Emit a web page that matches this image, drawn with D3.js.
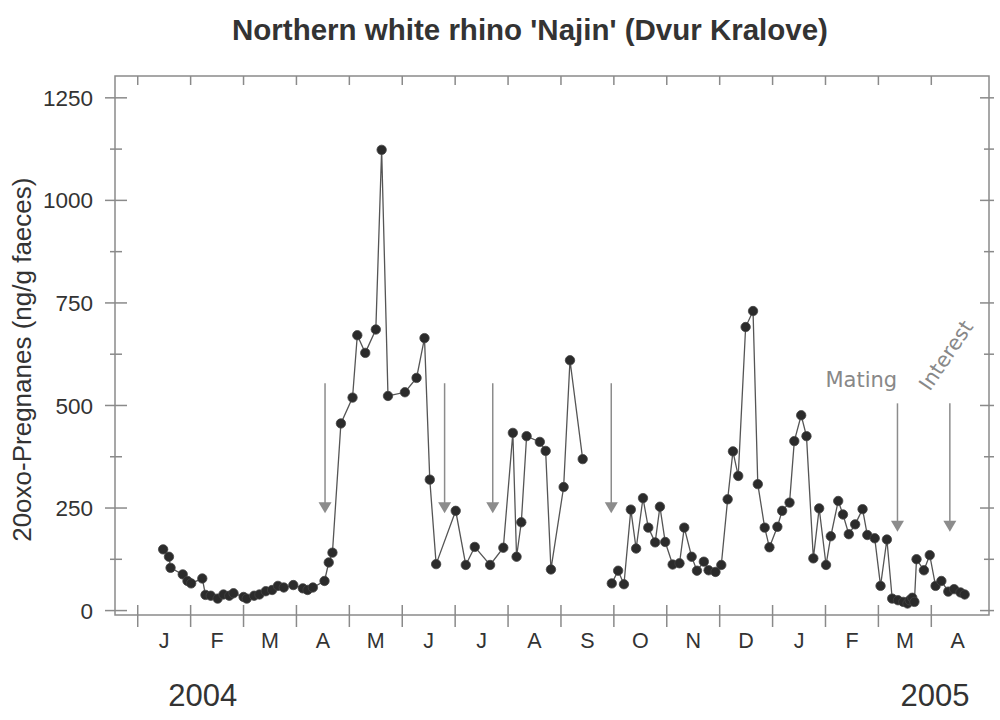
<!DOCTYPE html>
<html>
<head>
<meta charset="utf-8">
<script src="https://cdn.jsdelivr.net/npm/d3@7"></script>
<style>
  html, body { margin: 0; padding: 0; background: #fff; }
  svg { display: block; }
</style>
</head>
<body>
<svg id="chart" width="1000" height="720"></svg>
<script>
// ---- Data (x in months since 1 Jan 2004, y in ng/g faeces) ----
const segment1Months = [0.49,0.60,0.63,0.86,0.95,1.02,1.23,1.29,1.39,1.52,1.63,1.74,1.82,2.01,2.07,2.21,2.31,2.43,2.55,2.66,2.77,2.95,3.13,3.22,3.32,3.54,3.62,3.69,3.85,4.07,4.16,4.31,4.51,4.62,4.74,5.06,5.28,5.43,5.53,5.65,6.02,6.21,6.38,6.67,6.92,7.10,7.17,7.26,7.36,7.61,7.72,7.82,8.06,8.18,8.42];
const segment1Values = [148,130,103,87,71,65,77,37,35,28,38,35,41,32,28,35,38,46,49,59,55,61,53,49,55,71,116,140,455,518,670,627,684,1122,522,531,566,663,318,112,242,110,154,110,152,432,130,214,424,410,388,99,300,609,368];
const segment2Months = [8.97,9.09,9.20,9.33,9.43,9.56,9.66,9.79,9.88,9.98,10.12,10.25,10.34,10.48,10.58,10.71,10.80,10.93,11.04,11.16,11.26,11.36,11.50,11.64,11.73,11.86,11.95,12.10,12.19,12.33,12.42,12.55,12.65,12.78,12.89,13.02,13.11,13.25,13.34,13.45,13.57,13.71,13.80,13.94,14.05,14.17,14.27,14.38,14.48,14.56,14.60,14.65,14.69,14.73,14.87,14.98,15.09,15.20,15.33,15.44,15.56,15.64];
const segment2Values = [65,96,63,245,150,273,201,165,252,166,111,114,201,130,96,118,97,93,110,270,387,327,690,729,307,201,153,203,242,262,412,475,424,126,248,110,180,266,233,185,209,246,183,175,59,172,28,24,20,16,24,30,20,124,97,134,59,71,45,51,43,38];

const monthLabels = ["J","F","M","A","M","J","J","A","S","O","N","D","J","F","M","A"];
const yearLabels = ["2004","2005"];
const yearLabelMonths = [1.24,15.08];
const yTickValues = [0,250,500,750,1000,1250];
const yMinorTickValues = [125,375,625,875,1125];

// Event arrows (month position)
const eventArrowMonths = [3.55,5.81,6.72,8.96];
const matingArrowMonths = [14.37,15.36];
const eventArrowRange = [553,236];
const matingArrowRange = [504,191];
const annotationLabels = ["Mating","Interest"];

const title = "Northern white rhino 'Najin' (Dvur Kralove)";
const yTitle = "20oxo-Pregnanes (ng/g faeces)";

// ---- Layout ----
const svg = d3.select("#chart");
const L = 115, R = 989, T = 76, B = 615;
const axisColor = "#8a8a8a";
const textColor = "#333";
const font = "Liberation Sans, Arial, sans-serif";

const x = d3.scaleLinear().domain([-0.42, 16.1]).range([L, R]);
const y = d3.scaleLinear().domain([-12, 1302]).range([B, T]);

// Title
svg.append("text")
  .attr("x", 530).attr("y", 40)
  .attr("text-anchor", "middle")
  .attr("font-family", font)
  .attr("font-weight", "bold")
  .attr("font-size", 29.5)
  .attr("fill", textColor)
  .text(title);

// Frame
svg.append("rect")
  .attr("x", L).attr("y", T).attr("width", R - L).attr("height", B - T)
  .attr("fill", "none").attr("stroke", axisColor).attr("stroke-width", 1.5);

// Left axis
const leftAxis = d3.axisLeft(y).tickValues(yTickValues).tickFormat(d3.format("d")).tickSize(10).tickPadding(13);
const gL = svg.append("g").attr("transform", `translate(${L},0)`).call(leftAxis);
gL.select(".domain").remove();
gL.selectAll(".tick line").attr("stroke", axisColor).attr("stroke-width", 1.5).attr("x2", -10).attr("x1", 12);
gL.selectAll(".tick text")
  .attr("font-family", font)
  .attr("font-size", 22.5).attr("fill", textColor).attr("x", -22).attr("dy", "0.36em");
const gLm = svg.append("g").attr("transform", `translate(${L},0)`).call(d3.axisLeft(y).tickValues(yMinorTickValues).tickSize(5).tickFormat(""));
gLm.select(".domain").remove();
gLm.selectAll(".tick line").attr("stroke", axisColor).attr("stroke-width", 1.5).attr("x2", -5).attr("x1", 7);

// Right axis
const gR = svg.append("g").attr("transform", `translate(${R},0)`).call(d3.axisRight(y).tickValues(yTickValues).tickFormat(""));
gR.select(".domain").remove();
gR.selectAll(".tick line").attr("stroke", axisColor).attr("stroke-width", 1.5).attr("x1", -9).attr("x2", 5);
const gRm = svg.append("g").attr("transform", `translate(${R},0)`).call(d3.axisRight(y).tickValues(yMinorTickValues).tickFormat(""));
gRm.select(".domain").remove();
gRm.selectAll(".tick line").attr("stroke", axisColor).attr("stroke-width", 1.5).attr("x1", -5).attr("x2", 5);

// Bottom axis: month boundary ticks + month labels
const boundaries = d3.range(0, monthLabels.length);
const gB = svg.append("g").attr("transform", `translate(0,${B})`).call(d3.axisBottom(x).tickValues(boundaries).tickFormat(""));
gB.select(".domain").remove();
gB.selectAll(".tick line").attr("stroke", axisColor).attr("stroke-width", 1.5).attr("y1", -10).attr("y2", 12);

const gBl = svg.append("g").attr("transform", `translate(0,${B})`)
  .call(d3.axisBottom(x).tickValues(monthLabels.map((d, i) => i + 0.5)).tickFormat((d, i) => monthLabels[i]).tickSize(0).tickPadding(18));
gBl.select(".domain").remove();
gBl.selectAll(".tick text")
  .attr("font-family", font)
  .attr("font-size", 21.5).attr("fill", textColor);

// Top axis ticks
const gT = svg.append("g").attr("transform", `translate(0,${T})`).call(d3.axisTop(x).tickValues(boundaries).tickFormat(""));
gT.select(".domain").remove();
gT.selectAll(".tick line").attr("stroke", axisColor).attr("stroke-width", 1.5).attr("y1", 0).attr("y2", 9);

// Year labels
yearLabels.forEach((lab, i) => {
  svg.append("text").attr("x", x(yearLabelMonths[i])).attr("y", 706)
    .attr("text-anchor", "middle")
    .attr("font-family", font)
    .attr("font-size", 31).attr("fill", textColor).text(lab);
});

// Y title
svg.append("text")
  .attr("transform", `translate(31,${(y(0) + y(1250)) / 2 + 6}) rotate(-90)`)
  .attr("text-anchor", "middle")
  .attr("font-family", font)
  .attr("font-size", 26).attr("fill", textColor).text(yTitle);

// Arrows
const arrowColor = "#8c8c8c";
function drawArrow(m, range) {
  const xx = x(m), y0 = y(range[0]), y1 = y(range[1]);
  svg.append("line").attr("x1", xx).attr("x2", xx).attr("y1", y0).attr("y2", y1 - 9)
    .attr("stroke", arrowColor).attr("stroke-width", 1.5);
  svg.append("path")
    .attr("d", `M${xx - 6.5},${y1 - 11} L${xx + 6.5},${y1 - 11} L${xx},${y1} Z`)
    .attr("fill", arrowColor);
}
eventArrowMonths.forEach(m => drawArrow(m, eventArrowRange));
matingArrowMonths.forEach(m => drawArrow(m, matingArrowRange));

// Annotation text
svg.append("text").attr("x", x(matingArrowMonths[0]) - 72).attr("y", 387)
  .attr("font-family", "DejaVu Sans, Verdana, sans-serif")
  .attr("font-size", 21).attr("fill", "#888").text(annotationLabels[0]);
svg.append("text")
  .attr("transform", `translate(${x(matingArrowMonths[1]) - 20},392) rotate(-56)`)
  .attr("font-family", "DejaVu Sans, Verdana, sans-serif")
  .attr("font-size", 20.5).attr("fill", "#888").text(annotationLabels[1]);

// Data lines and points
const line = d3.line().x(d => x(d[0])).y(d => y(d[1]));
const segments = [
  segment1Months.map((m, i) => [m, segment1Values[i]]),
  segment2Months.map((m, i) => [m, segment2Values[i]])
];
segments.forEach(seg => {
  svg.append("path").datum(seg).attr("d", line)
    .attr("fill", "none").attr("stroke", "#555").attr("stroke-width", 1.3);
});
segments.forEach(seg => {
  svg.append("g").selectAll("circle").data(seg).join("circle")
    .attr("cx", d => x(d[0])).attr("cy", d => y(d[1])).attr("r", 4.7)
    .attr("fill", "#2b2b2b").attr("stroke", "#444").attr("stroke-width", 0.8);
});
</script>
</body>
</html>
